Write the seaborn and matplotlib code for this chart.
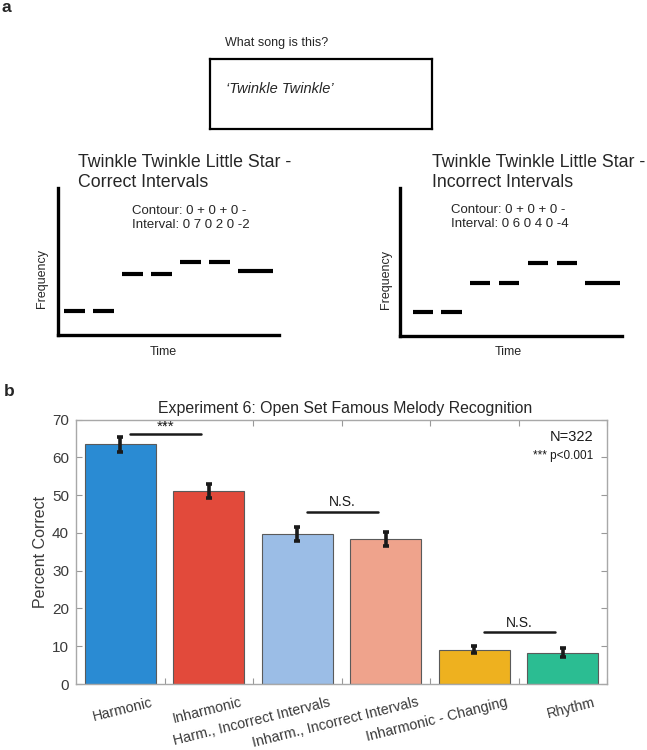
import numpy as np
import pandas as pd
import matplotlib
matplotlib.use("Agg")
import matplotlib.pyplot as plt
import seaborn as sns

# ---------------- data ----------------
categories = ["Harmonic", "Inharmonic", "Harm., Incorrect Intervals",
              "Inharm., Incorrect Intervals", "Inharmonic - Changing", "Rhythm"]
percent_correct = [63.4, 51.0, 39.7, 38.4, 9.1, 8.3]
sem = [1.9, 1.9, 1.85, 1.9, 1.0, 1.1]
bar_colors = ["#2a8bd3", "#e24a3b", "#9bbde6", "#efa38c", "#eeb11f", "#2bbd92"]

sig_pairs = [(0, 1), (2, 3), (4, 5)]
sig_heights = [66.1, 45.6, 13.8]
sig_labels = ["***", "N.S.", "N.S."]

note_beats = [0, 1, 2, 3, 4, 5, 6]
note_durations = [0.7, 0.7, 0.7, 0.7, 0.7, 0.7, 1.2]
pitch_correct = [0, 0, 7, 7, 9.15, 9.15, 7.6]
pitch_incorrect = [0, 0, 6, 6, 10, 10, 6]

# ---------------- figure ----------------
sns.set_theme(style="white")
plt.rcParams["font.family"] = ["Liberation Sans", "DejaVu Sans"]

W, H = 647, 750
fig = plt.figure(figsize=(W / 100, H / 100), dpi=100)


def rect(l, t, r, b):
    return [l / W, 1 - b / H, (r - l) / W, (b - t) / H]


def ftext(x, y, s, **kw):
    return fig.text(x / W, 1 - y / H, s, **kw)


# panel labels
ftext(2, 8, "a", fontsize=12.5, fontweight="bold", va="center", ha="left")
ftext(4, 392, "b", fontsize=12.5, fontweight="bold", va="center", ha="left")

# ---- question box ----
ftext(225, 43.3, "What song is this?", fontsize=9.0, va="center", ha="left")
axb = fig.add_axes(rect(209.5, 59.3, 432, 129.3))
axb.set_xticks([]); axb.set_yticks([])
for s in axb.spines.values():
    s.set_visible(True); s.set_color("black"); s.set_linewidth(1.6)
axb.set_facecolor("white")
axb.text((226.4 - 209.5) / (432 - 209.5), 1 - (89.3 - 59.3) / 70,
         "\u2018Twinkle Twinkle\u2019", transform=axb.transAxes,
         fontsize=10.5, fontstyle="italic", va="center", ha="left")


# ---- melody panels ----
def melody(box, xlim, ylim, pitches, title, title_xy, contour_xy, interval_str,
           freq_xy, time_xy):
    ax = fig.add_axes(rect(*box))
    ax.set_xlim(*xlim); ax.set_ylim(*ylim)
    starts = np.array(note_beats, dtype=float)
    ends = starts + np.array(note_durations)
    ax.hlines(pitches, starts, ends, colors="black", linewidth=3.0)
    ax.set_xticks([]); ax.set_yticks([])
    ax.set_facecolor("none")
    for k in ["top", "right"]:
        ax.spines[k].set_visible(False)
    for k in ["left", "bottom"]:
        ax.spines[k].set_visible(True)
        ax.spines[k].set_color("black"); ax.spines[k].set_linewidth(2.4)
    ftext(title_xy[0], title_xy[1], title, fontsize=12.8, va="center", ha="left",
          linespacing=1.3)
    ftext(contour_xy[0], contour_xy[1], "Contour: 0 + 0 + 0 -", fontsize=9.5,
          va="center", ha="left")
    ftext(contour_xy[0], contour_xy[1] + 14, interval_str, fontsize=9.5,
          va="center", ha="left")
    ftext(freq_xy[0], freq_xy[1], "Frequency", fontsize=9, rotation=90,
          va="center", ha="center")
    ftext(time_xy[0], time_xy[1], "Time", fontsize=9, va="center", ha="center")
    return ax


melody((58.3, 188, 279, 335), (-0.207, 7.40), (-4.59, 23.2), pitch_correct,
       "Twinkle Twinkle Little Star -\nCorrect Intervals", (78, 172.5),
       (132, 211), "Interval: 0 7 0 2 0 -2", (41.7, 278), (163, 352))
melody((400, 188, 621.7, 335.7), (-0.44, 7.26), (-4.75, 25.2), pitch_incorrect,
       "Twinkle Twinkle Little Star -\nIncorrect Intervals", (431.7, 172.5),
       (451, 210), "Interval: 0 6 0 4 0 -4", (385.7, 280), (508, 352))

# ---- bar chart ----
df = pd.DataFrame({"Condition": categories, "Percent": percent_correct, "SEM": sem})
ax = fig.add_axes(rect(76, 419.5, 607, 684))
sns.barplot(data=df, x="Condition", y="Percent", hue="Condition", order=categories,
            hue_order=categories, palette=bar_colors, width=0.8, errorbar=None,
            edgecolor="#5a5a5a", linewidth=0.8, legend=False, ax=ax, saturation=1)
xpos = np.arange(len(categories))
ax.errorbar(xpos, df["Percent"], yerr=df["SEM"], fmt="none", ecolor="#1a1a1a",
            elinewidth=2.6, capsize=2.5, capthick=2.6, zorder=5)
ax.set_xlim(-0.5, len(categories) - 0.5)
ax.set_ylim(0, 70)
ax.set_yticks(range(0, 71, 10))
# tick marks between bars (minor), labels anchored near bar right side (major)
ax.set_xticks(xpos + 0.5, minor=True)
ax.set_xticks(xpos + 0.35)
ax.set_xticklabels(categories, rotation=14, ha="right", va="top",
                   rotation_mode="anchor", fontsize=10.3, color="#3a3a3a")
ax.tick_params(axis="y", labelsize=11, labelcolor="#3a3a3a", pad=5)
ax.tick_params(axis="y", which="both", direction="in", length=4, width=0.8,
               color="#999999", left=True, right=True)
ax.tick_params(axis="x", which="major", length=0, pad=8, bottom=True, top=False)
ax.tick_params(axis="x", which="minor", direction="in", length=4, width=0.8,
               color="#999999", bottom=True, top=True)
for s in ax.spines.values():
    s.set_visible(True); s.set_color("#a8a8a8"); s.set_linewidth(1.0)
ax.set_xlabel("")
ax.set_ylabel("Percent Correct", fontsize=11.5, color="#3a3a3a", labelpad=3)

for (i, j), h, lab in zip(sig_pairs, sig_heights, sig_labels):
    ax.plot([i + 0.11, j - 0.09], [h, h], color="#1a1a1a", linewidth=1.8)
    if lab == "***":
        ax.text((i + j) / 2 + 0.01, h + 0.2, lab, ha="center", va="bottom",
                fontsize=11, color="#1a1a1a")
    else:
        ax.text((i + j) / 2 + 0.01, h + 0.6, lab, ha="center", va="bottom",
                fontsize=10, color="#1a1a1a")

ax.text(0.974, 0.934, "N=322", transform=ax.transAxes, ha="right", va="center",
        fontsize=10.5, color="#1a1a1a")
ax.text(0.974, 0.862, "*** p<0.001", transform=ax.transAxes, ha="right", va="center",
        fontsize=8.5, color="#1a1a1a")

ftext(345, 408.5, "Experiment 6: Open Set Famous Melody Recognition", fontsize=11.4,
      ha="center", va="center", color="#262626")

fig.savefig("out.png", dpi=100)
